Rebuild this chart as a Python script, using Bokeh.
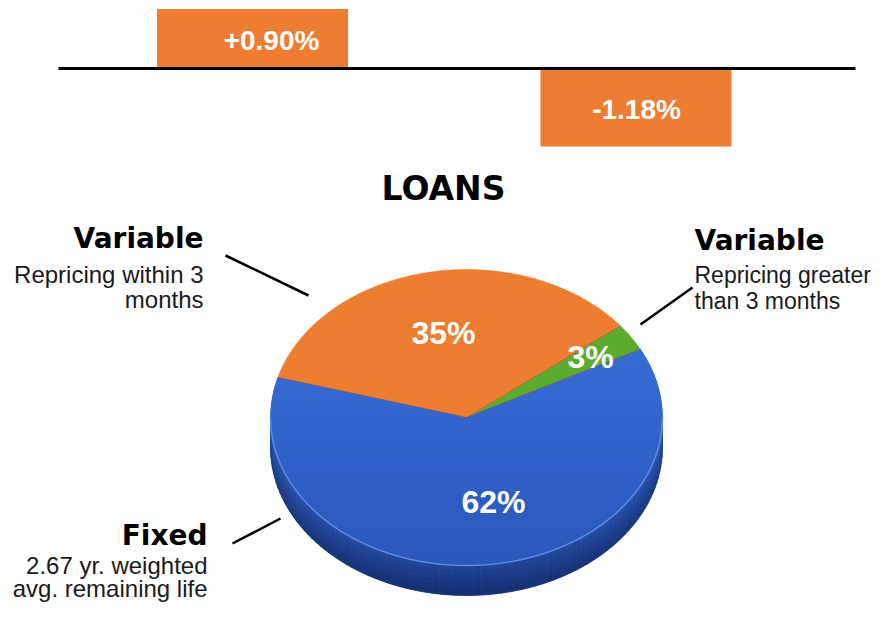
import numpy as np
from bokeh.plotting import figure
from bokeh.models import Range1d
from bokeh.core.properties import value
from bokeh.embed import file_html
from bokeh.resources import INLINE

# ---------------- data ----------------
bar_labels = ["+0.90%", "-1.18%"]
bar_values = [0.90, -1.18]

title = "LOANS"
pie_names = ["Variable (>3 months)", "Variable (within 3 months)", "Fixed"]
pie_shares = [3, 35, 62]
pie_labels = ["3%", "35%", "62%"]

heading_left_top = ["Variable", "Repricing within 3", "months"]
heading_right_top = ["Variable", "Repricing greater", "than 3 months"]
heading_left_bottom = ["Fixed", "2.67 yr. weighted", "avg. remaining life"]

# ---------------- styles / layout ----------------
ORANGE = "#ed7d31"
GREEN = "#5aac2f"
BLUE = "#3468d4"
pie_colors = [GREEN, ORANGE, BLUE]

W, H = 872, 603           # figure size in pixels (1 design unit = 1 px)
PX_PER_UNIT = 66.0        # px per percent point in the bar panel
BASE_Y = 68               # px y of the zero line

bar_x = [252, 635.5]
bar_label_x = [271, 636]
bar_width = 191

HEAD_FONT = value("DejaVu Sans")
BODY_FONT = value("Liberation Sans")


def hex2rgb(h):
    h = h.lstrip("#")
    return np.array([int(h[i:i + 2], 16) for i in (0, 2, 4)], dtype=float)


def rgb2hex(c):
    c = np.clip(np.round(c), 0, 255).astype(int)
    return "#%02x%02x%02x" % tuple(c)


def mix(a, b, t):
    return rgb2hex(hex2rgb(a) * (1 - t) + hex2rgb(b) * t)


p = figure(width=W, height=H, x_range=Range1d(0, W), y_range=Range1d(H, 0),
           output_backend="svg", toolbar_location=None, min_border=0)
p.axis.visible = False
p.grid.visible = False
p.outline_line_color = None
p.background_fill_color = "white"
p.border_fill_color = "white"

# ---------------- top bar chart (own value scale) ----------------
p.extra_y_ranges = {"bars": Range1d(-(H - BASE_Y) / PX_PER_UNIT, BASE_Y / PX_PER_UNIT)}
p.vbar(x=bar_x, top=bar_values, bottom=0, width=bar_width, fill_color=ORANGE,
       line_color=None, y_range_name="bars")
p.segment(x0=[58], y0=[0], x1=[855], y1=[0], line_color="black", line_width=3,
          y_range_name="bars")
p.text(x=bar_label_x, y=[v / 2 for v in bar_values], text=bar_labels,
       text_font=BODY_FONT, text_font_style="bold", text_font_size="28px",
       text_color="white", text_align="center", text_baseline="middle", y_offset=2,
       y_range_name="bars")

# ---------------- pie (3D look) ----------------
cx, cy, ra, rb, depth = 466.0, 417.0, 196.0, 148.0, 30.0
start_deg = 27.5


def ell(t_deg, dy=0.0):
    t = np.radians(t_deg)
    return cx + ra * np.cos(t), cy - rb * np.sin(t) + dy


# side band (front half): angular shading
n_ang = 90
xs, ys, cols = [], [], []
angs = np.linspace(180, 360, n_ang + 1)
for i in range(n_ang):
    t0, t1 = angs[i], angs[i + 1]
    tm = 0.5 * (t0 + t1)
    f = min(1.0, abs(tm - 270) / 90.0)
    base = mix("#1e4394", "#2d59b8", f ** 1.3)
    xa, ya = ell(t0)
    xb, yb = ell(t1)
    xc, yc = ell(t1, depth)
    xd, yd = ell(t0, depth)
    xs.append([xa, xb, xc, xd])
    ys.append([ya, yb, yc, yd])
    cols.append(base)
p.patches(xs=xs, ys=ys, fill_color=cols, line_color=cols, line_width=0.8)

# vertical darkening of the side band (stacked translucent layers)
ts_side = np.linspace(180, 360, 121)
n_lay = 6
for k in range(1, n_lay):
    d0 = depth * k / n_lay
    top = [ell(t, d0) for t in ts_side]
    bot = [ell(t, depth) for t in ts_side[::-1]]
    p.patch(x=[q[0] for q in top + bot], y=[q[1] for q in top + bot],
            fill_color="#0a1a44", fill_alpha=0.09, line_color=None)

# top face wedges
fr = np.array(pie_shares, dtype=float) / sum(pie_shares)
bounds = start_deg + 360.0 * np.concatenate([[0], np.cumsum(fr)])


def wedge_poly(a0, a1):
    n = max(3, int(abs(a1 - a0) / 1.0))
    ts = np.linspace(a0, a1, n)
    px = [cx] + [ell(t)[0] for t in ts]
    py = [cy] + [ell(t)[1] for t in ts]
    return list(zip(px, py))


def clip(poly, inside, inter):
    out = []
    for i in range(len(poly)):
        cur, prev = poly[i], poly[i - 1]
        if inside(cur):
            if not inside(prev):
                out.append(inter(prev, cur))
            out.append(cur)
        elif inside(prev):
            out.append(inter(prev, cur))
    return out


def y_inter(yc):
    def f(p_, c):
        t = (yc - p_[1]) / (c[1] - p_[1])
        return (p_[0] + t * (c[0] - p_[0]), yc)
    return f


polys = [wedge_poly(bounds[i], bounds[i + 1]) for i in range(len(pie_shares))]

for i, poly in enumerate(polys):
    p.patch(x=[q[0] for q in poly], y=[q[1] for q in poly], fill_color=pie_colors[i],
            line_color=pie_colors[i], line_width=0.5)

# blue wedge: vertical gradient bands (no stroke, overlapping)
bi = pie_colors.index(BLUE)
bpoly = polys[bi]
ymin, ymax = cy - rb, cy + rb
edges = np.linspace(ymin, ymax, 41)
gx, gy, gc = [], [], []
for j in range(len(edges) - 1):
    y0, y1 = edges[j], edges[j + 1] + 1.0
    c = clip(bpoly, lambda q: q[1] >= y0, y_inter(y0))
    if len(c) < 3:
        continue
    c = clip(c, lambda q: q[1] <= y1, y_inter(y1))
    if len(c) < 3:
        continue
    tt = (edges[j] - ymin) / (ymax - ymin)
    gx.append([q[0] for q in c])
    gy.append([q[1] for q in c])
    gc.append(mix("#3b72de", "#2a57ba", tt))
p.patches(xs=gx, ys=gy, fill_color=gc, line_color=None)

# slice boundaries
for b in bounds[:-1]:
    ex, ey = ell(b)
    p.line(x=[cx, ex], y=[cy, ey], line_color="#9a5a30", line_width=1, line_alpha=0.6)

# rim highlight on front edge
p.line(x=[ell(t)[0] for t in ts_side], y=[ell(t)[1] for t in ts_side],
       line_color="#6a95ee", line_width=1.5, line_alpha=0.8)

# slice labels
label_pos = [(590, 356), (443, 332), (493, 501)]
p.text(x=[q[0] for q in label_pos], y=[q[1] for q in label_pos], text=pie_labels,
       text_font=BODY_FONT, text_font_style="bold", text_font_size="32px",
       text_color="white", text_align="center", text_baseline="middle")

# title
p.text(x=[443], y=[188], text=[title], text_font=HEAD_FONT, text_font_style="bold",
       text_font_size="33px", text_color="black", text_align="center",
       text_baseline="middle")


def block(lines, x, ys_, align, body_size="24px"):
    p.text(x=[x], y=[ys_[0]], text=[lines[0]], text_font=HEAD_FONT, text_font_style="bold",
           text_font_size="28px", text_color="black", text_align=align,
           text_baseline="middle")
    p.text(x=[x] * 2, y=ys_[1:], text=lines[1:], text_font=BODY_FONT,
           text_font_size=body_size, text_color="#1a1a1a", text_align=align,
           text_baseline="middle")


block(heading_left_top, 203, [238, 274, 299], "right")
block(heading_right_top, 694, [240, 274, 300], "left", body_size="23px")
block(heading_left_bottom, 207, [535, 565, 588], "right")

# leader lines
p.segment(x0=[225, 640, 232], y0=[255, 324, 543], x1=[308, 692, 280], y1=[295, 287, 518],
          line_color="black", line_width=2.5)

open("out.html", "w").write(file_html(p, INLINE))
